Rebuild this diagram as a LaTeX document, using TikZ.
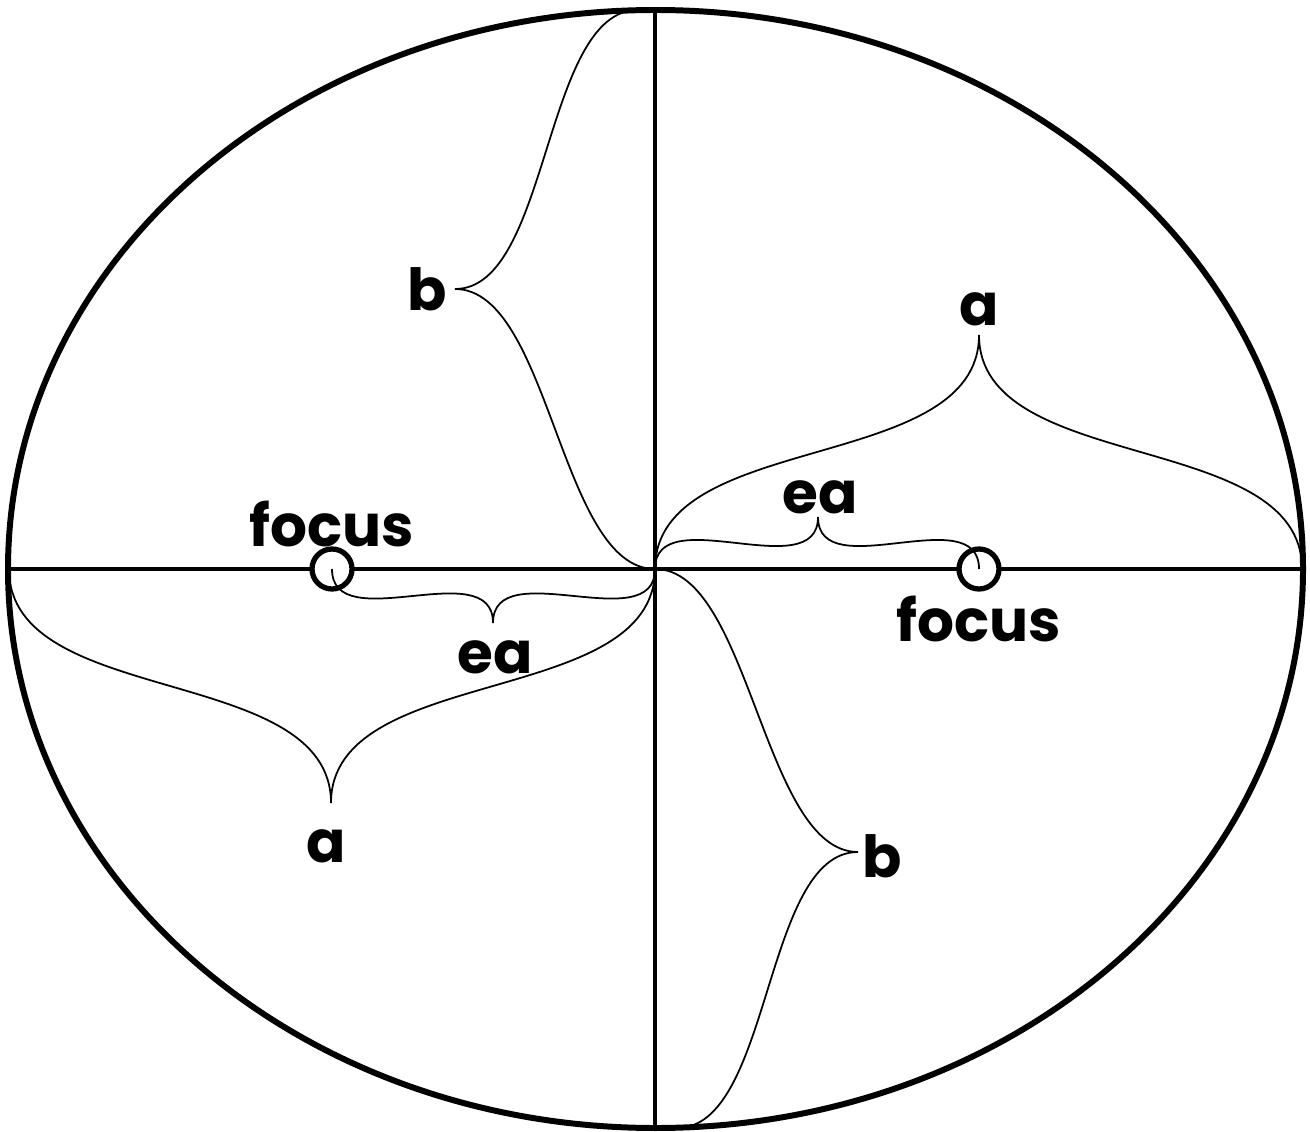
\documentclass[tikz,border=0pt]{standalone}
\usepackage{fontspec}
\setmainfont{Poppins}
\usepackage{tikz}
\usetikzlibrary{positioning,calc}

\tikzset{
  lbl/.style={font=\bfseries\fontsize{16.5}{20}\selectfont, inner sep=0pt},
  bracecurve/.style={line width=0.5pt},
}

\begin{document}
\begin{tikzpicture}[x=0.01cm, y=-0.01cm]
  \useasboundingbox (0,0) rectangle (1310,1131);
  % outline and axes
  \draw[line width=1.7pt] (655.5,569) ellipse [x radius=647.5, y radius=559];
  \coordinate (O) at (655,569);
  \coordinate (W) at (8,569);
  \coordinate (E) at (1303,569);
  \coordinate (N) at (655,10);
  \coordinate (S) at (655,1128);
  \draw[line width=0.9pt] (W) -- (E);
  \draw[line width=0.9pt] (N) -- (S);
  % foci
  \coordinate (F1) at (332,569);
  \coordinate (F2) at (979,569);
  \foreach \f in {F1,F2}
    \draw[line width=1.5pt, fill=white] (\f) circle (20);
  % labels
  \foreach \nm/\x/\y/\txt in {focL/332/524/focus, focR/979/619/focus,
      aU/979/309/a, aL/326/846/a, bU/427/289/b, bL/882/856/b,
      eaU/820/497/ea, eaL/495/657/ea}
    \node[lbl] (\nm) at (\x,\y) {\txt};
  % braces
  \draw[bracecurve] (638,10) .. controls +(-95,0) and +(95,0) .. (455,289)
    .. controls +(95,0) and +(-95,0) .. (O);
  \draw[bracecurve] (O) .. controls +(95,0) and +(-95,0) .. (858,852)
    .. controls +(-95,0) and +(95,0) .. (677,1128);
  \draw[bracecurve] (O) .. controls +(0,-140) and +(0,140) .. (979,335)
    .. controls +(0,140) and +(0,-140) .. (1302,569);
  \draw[bracecurve] (9,569) .. controls +(0,140) and +(0,-140) .. (331,803)
    .. controls +(0,-140) and +(0,140) .. (O);
  \draw[bracecurve] (O) .. controls +(0,-70) and +(0,70) .. (818,517)
    .. controls +(0,70) and +(0,-70) .. (F2);
  \draw[bracecurve] (F1) .. controls +(0,70) and +(0,-70) .. (493,623)
    .. controls +(0,-70) and +(0,70) .. (O);
\end{tikzpicture}
\end{document}
